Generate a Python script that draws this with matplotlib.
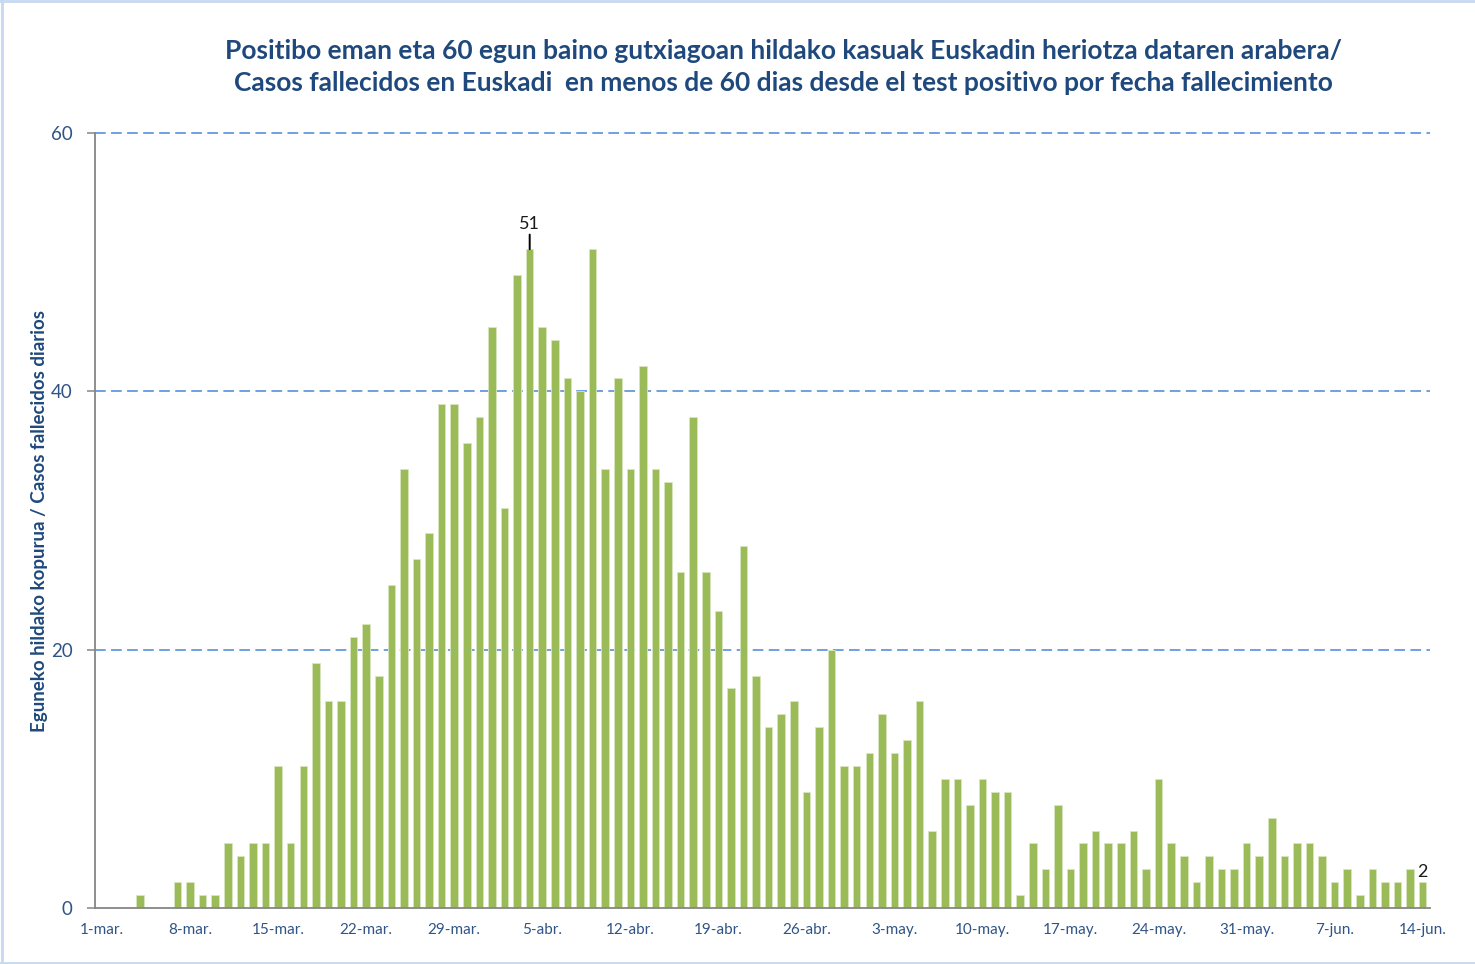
import matplotlib
matplotlib.use("Agg")
import matplotlib.pyplot as plt
from matplotlib.lines import Line2D

# ---- data ----
values = [0, 0, 0, 1, 0, 0, 2, 2, 1, 1,
          5, 4, 5, 5, 11, 5, 11, 19, 16, 16,
          21, 22, 18, 25, 34, 27, 29, 39, 39, 36,
          38, 45, 31, 49, 51, 45, 44, 41, 40, 51,
          34, 41, 34, 42, 34, 33, 26, 38, 26, 23,
          17, 28, 18, 14, 15, 16, 9, 14, 20, 11,
          11, 12, 15, 12, 13, 16, 6, 10, 10, 8,
          10, 9, 9, 1, 5, 3, 8, 3, 5, 6,
          5, 5, 6, 3, 10, 5, 4, 2, 4, 3,
          3, 5, 4, 7, 4, 5, 5, 4, 2, 3,
          1, 3, 2, 2, 3, 2]
tick_labels = ["1-mar.", "8-mar.", "15-mar.", "22-mar.", "29-mar.", "5-abr.",
               "12-abr.", "19-abr.", "26-abr.", "3-may.", "10-may.", "17-may.",
               "24-may.", "31-may.", "7-jun.", "14-jun."]
y_ticks = [0, 20, 40, 60]
labelled_idx = [34, 105]

title = ("Positibo eman eta 60 egun baino gutxiagoan hildako kasuak Euskadin heriotza dataren arabera/\n"
         "Casos fallecidos en Euskadi  en menos de 60 dias desde el test positivo por fecha fallecimiento")
ylabel = "Eguneko hildako kopurua / Casos fallecidos diarios"

FONT = ["Lato", "DejaVu Sans"]
plt.rcParams["font.family"] = FONT

W, H = 1475, 964
fig = plt.figure(figsize=(W / 100, H / 100), dpi=100)
ax = fig.add_axes([95 / W, 1 - 908 / H, (1430 - 95) / W, (908 - 133) / H])

x = list(range(len(values)))
ax.bar(x, values, width=0.6, color="#9BBB59", edgecolor="#D8E6C0", linewidth=0.6, zorder=3)

ax.set_xlim(-0.56, len(values) - 0.42)
ax.set_ylim(0, 60)

ax.set_yticks(y_ticks)
ax.set_yticklabels([str(v) for v in y_ticks])
ax.set_xticks(list(range(0, len(values), 7)))
ax.set_xticklabels(tick_labels)

tick_color = "#2F5486"
ax.tick_params(axis="y", length=6, width=1.1, color="#868686", labelsize=13.5,
               labelcolor=tick_color, pad=10)
ax.tick_params(axis="x", length=0, labelsize=11, labelcolor=tick_color, pad=11)

for yv in y_ticks[1:]:
    ax.axhline(yv, color="#4A86D8", lw=1.1, linestyle=(0, (7, 3.5)), zorder=1, clip_on=False)

for s in ["top", "right"]:
    ax.spines[s].set_visible(False)
for s in ["left", "bottom"]:
    ax.spines[s].set_color("#868686")
    ax.spines[s].set_linewidth(1.3)
    ax.spines[s].set_zorder(4)

# data labels
i = labelled_idx[0]
ax.annotate(str(values[i]), xy=(i, values[i]), xytext=(i, values[i] + 1.35),
            ha="center", va="bottom", fontsize=13, color="#1A1A1A",
            arrowprops=dict(arrowstyle="-", color="black", lw=1.4, shrinkA=0, shrinkB=0))
i = labelled_idx[1]
ax.text(i, values[i] + 0.15, str(values[i]), ha="center", va="bottom",
        fontsize=13, color="#1A1A1A")

fig.text(0.531, 1 - 67 / H, title, ha="center", va="center", fontsize=19,
         fontweight="bold", color="#1F497D", linespacing=1.42)
fig.text(40 / W, 1 - 521 / H, ylabel, rotation=90, ha="center", va="center",
         fontsize=13.5, fontweight="bold", color="#1F497D")

# light frame around chart area
fc = "#C6D9F1"
fig.add_artist(Line2D([0, 1], [1 - 1 / H, 1 - 1 / H], transform=fig.transFigure, color=fc, lw=2))
fig.add_artist(Line2D([2 / W, 2 / W], [0, 1], transform=fig.transFigure, color=fc, lw=2))
fig.add_artist(Line2D([0, 1], [1.5 / H, 1.5 / H], transform=fig.transFigure, color=fc, lw=2))

fig.savefig("out.png", dpi=100)
